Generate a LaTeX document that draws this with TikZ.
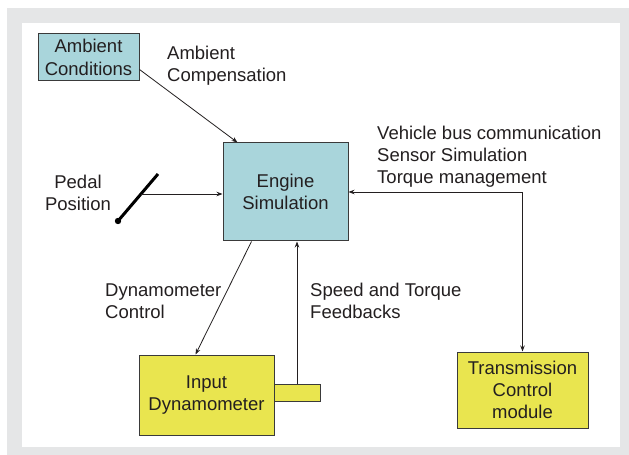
\documentclass[tikz,border=0pt]{standalone}
\usepackage{fontspec}
\setmainfont{Liberation Sans}
\usetikzlibrary{calc,arrows.meta}
\definecolor{bggray}{HTML}{E5E6E7}
\definecolor{teal1}{HTML}{A9D5DB}
\definecolor{yel1}{HTML}{E9E54F}
\definecolor{ink}{HTML}{231F20}
\definecolor{edge}{HTML}{3A3A3A}
\tikzset{
  x=1bp,y=-1bp,
  every node/.style={font=\fontsize{18.5bp}{22bp}\selectfont, text=ink},
  block/.style={draw=edge, line width=1bp, inner sep=0pt, align=center},
  tealbox/.style={block, fill=teal1},
  yelbox/.style={block, fill=yel1},
  lbl/.style={inner sep=0pt, align=left, anchor=north west},
  conn/.style={draw=ink, line width=0.8bp, -{Stealth[length=6bp,width=4.5bp]}},
}
\begin{document}
\begin{tikzpicture}
\useasboundingbox (0,0) rectangle (629,455);
\fill[bggray] (7,8) rectangle (629,455);
\fill[white] (22,23) rectangle (620,447);
% boxes
\node[tealbox, minimum width=101bp, minimum height=47bp, font=\fontsize{18.5bp}{23bp}\selectfont] (ambient) at (88.5,57.5) {Ambient\\Conditions};
\node[tealbox, minimum width=125bp, minimum height=98bp] (engine) at (285.5,192) {Engine\\Simulation};
\node[yelbox, minimum width=131bp, minimum height=76bp] (trans) at (522.5,390) {Transmission\\Control\\module};
\node[yelbox, minimum width=46bp, minimum height=17bp] (shaft) at (297,392.5) {};
\node[yelbox, minimum width=135bp, minimum height=80bp] (indyn) at (206.5,395) {Input\\Dynamometer};
% labels
\node[lbl] (lamb) at (167,45.5) {Ambient\\Compensation};
\node[lbl] (lveh) at (377,126) {Vehicle bus communication\\Sensor Simulation\\Torque management};
\node[lbl] (lspeed) at (310,283) {Speed and Torque\\Feedbacks};
\node[lbl] (ldyn) at (105,284) {Dynamometer\\Control};
\node[inner sep=0pt, align=center, anchor=north] (lped) at (78,175) {Pedal\\Position};
% pedal
\coordinate (ptop) at (158,174);
\coordinate (pbot) at (118,221);
\coordinate (pmid) at (141,194);
\draw[line width=3bp, black] (ptop) -- (pbot);
\fill[black] (pbot) circle (3.2bp);
% connectors
\draw[conn] ($(ambient.east)+(0,12)$) -- ($(engine.north west)+(15,0)$);
\draw[conn] (pmid) -- (engine.west |- pmid);
\coordinate (corner) at (trans.north |- engine.east);
\draw[conn, {Stealth[length=6bp,width=4.5bp]}-{Stealth[length=6bp,width=4.5bp]}] (engine.east) -- (corner) -- (trans.north);
\draw[conn] ($(engine.south west)+(29,0)$) -- ($(indyn.north west)+(57,0)$);
\draw[conn] (shaft.north) -- (engine.south -| shaft.north);
\end{tikzpicture}
\end{document}
